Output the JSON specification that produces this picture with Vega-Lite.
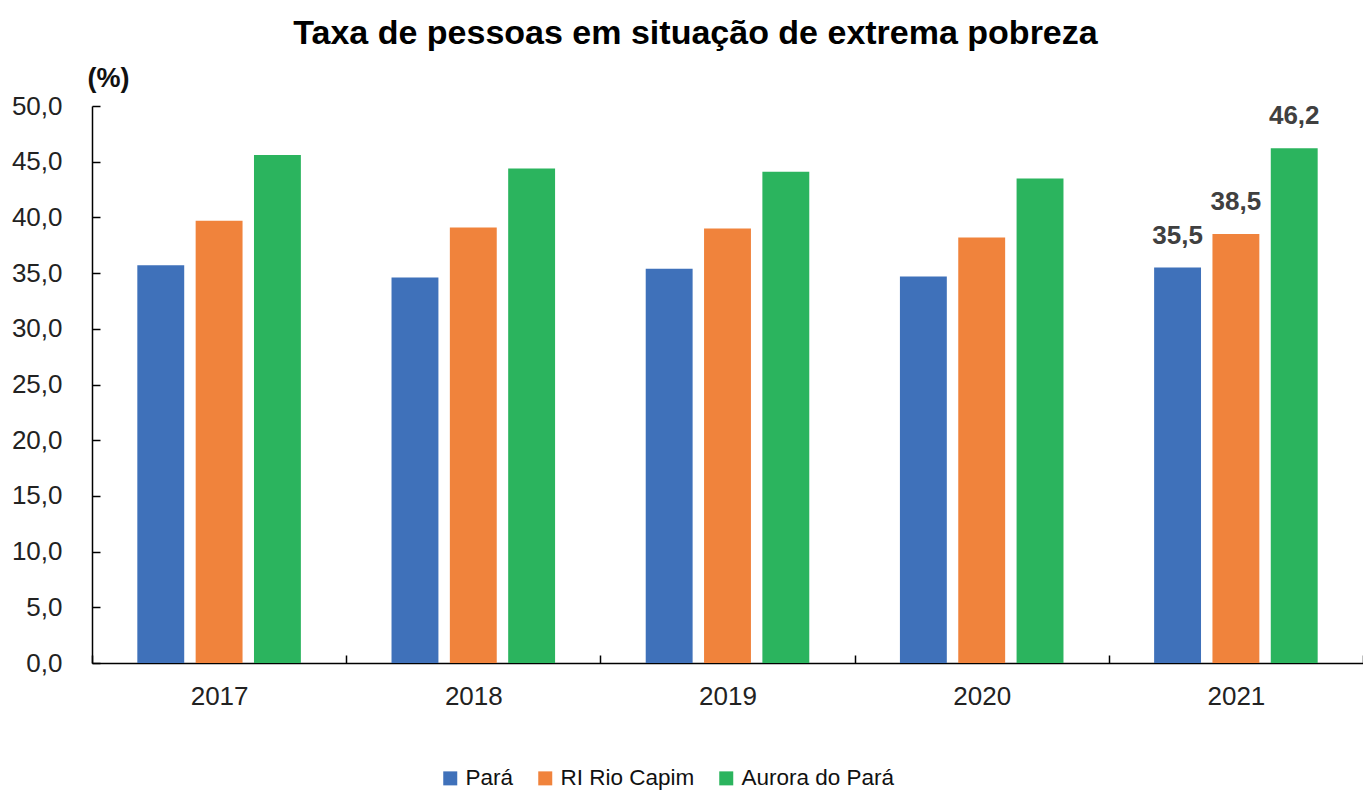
{
  "$schema": "https://vega.github.io/schema/vega-lite/v6.json",
  "autosize": "none",
  "width": 1271,
  "height": 557,
  "padding": {"left": 92, "top": 106, "right": 0, "bottom": 132},
  "background": "white",
  "config": {
    "locale": {"number": {"decimal": ",", "thousands": ".", "grouping": [3], "currency": ["R$", ""]}},
    "view": {"stroke": null},
    "font": "Liberation Sans"
  },
  "title": {
    "text": "Taxa de pessoas em situação de extrema pobreza",
    "font": "Liberation Sans",
    "fontSize": 34,
    "fontWeight": "bold",
    "color": "#000000",
    "anchor": "middle",
    "frame": "group",
    "dx": -32,
    "offset": 13
  },
  "data": {
    "values": [
      {"ano": "2017", "serie": "Pará", "valor": 35.7},
      {"ano": "2017", "serie": "RI Rio Capim", "valor": 39.7},
      {"ano": "2017", "serie": "Aurora do Pará", "valor": 45.6},
      {"ano": "2018", "serie": "Pará", "valor": 34.6},
      {"ano": "2018", "serie": "RI Rio Capim", "valor": 39.1},
      {"ano": "2018", "serie": "Aurora do Pará", "valor": 44.4},
      {"ano": "2019", "serie": "Pará", "valor": 35.4},
      {"ano": "2019", "serie": "RI Rio Capim", "valor": 39.0},
      {"ano": "2019", "serie": "Aurora do Pará", "valor": 44.1},
      {"ano": "2020", "serie": "Pará", "valor": 34.7},
      {"ano": "2020", "serie": "RI Rio Capim", "valor": 38.2},
      {"ano": "2020", "serie": "Aurora do Pará", "valor": 43.5},
      {"ano": "2021", "serie": "Pará", "valor": 35.5},
      {"ano": "2021", "serie": "RI Rio Capim", "valor": 38.5},
      {"ano": "2021", "serie": "Aurora do Pará", "valor": 46.2}
    ]
  },
  "encoding": {
    "x": {
      "field": "ano",
      "type": "nominal",
      "scale": {"paddingInner": 0, "paddingOuter": 0},
      "axis": {
        "title": null,
        "labelAngle": 0,
        "labelFont": "Liberation Sans",
        "labelFontSize": 26,
        "labelColor": "#222222",
        "labelPadding": 28,
        "tickBand": "extent",
        "tickSize": -8,
        "tickColor": "#000000",
        "tickWidth": 1.5,
        "domainColor": "#000000",
        "domainWidth": 1.5,
        "grid": false
      }
    },
    "xOffset": {
      "field": "serie",
      "type": "nominal",
      "sort": ["Pará", "RI Rio Capim", "Aurora do Pará"],
      "scale": {"paddingInner": 0.196, "paddingOuter": 0.777}
    },
    "y": {
      "field": "valor",
      "type": "quantitative",
      "scale": {"domain": [0, 50], "nice": false},
      "axis": {
        "title": "(%)",
        "titleAngle": 0,
        "titleAlign": "center",
        "titleBaseline": "middle",
        "titleX": 16,
        "titleY": -28,
        "titleFont": "Liberation Sans",
        "titleFontSize": 27,
        "titleFontWeight": "bold",
        "titleColor": "#111111",
        "values": [0, 5, 10, 15, 20, 25, 30, 35, 40, 45, 50],
        "format": ".1f",
        "labelFont": "Liberation Sans",
        "labelFontSize": 26,
        "labelColor": "#222222",
        "labelPadding": 38,
        "tickSize": -8,
        "tickColor": "#000000",
        "tickWidth": 1.5,
        "domainColor": "#000000",
        "domainWidth": 1.5,
        "grid": false
      }
    }
  },
  "layer": [
    {
      "mark": {"type": "bar"},
      "encoding": {
        "color": {
          "field": "serie",
          "type": "nominal",
          "sort": ["Pará", "RI Rio Capim", "Aurora do Pará"],
          "scale": {
            "domain": ["Pará", "RI Rio Capim", "Aurora do Pará"],
            "range": ["#3F71BA", "#F0833C", "#2BB45E"]
          },
          "legend": {
            "title": null,
            "orient": "none",
            "direction": "horizontal",
            "legendX": 347,
            "legendY": 661,
            "symbolType": "square",
            "symbolSize": 196,
            "symbolStrokeWidth": 0,
            "labelFont": "Liberation Sans",
            "labelFontSize": 22.5,
            "labelColor": "#111111",
            "labelLimit": 0,
            "labelOffset": 4,
            "columnPadding": 20
          }
        }
      }
    },
    {
      "transform": [{"filter": "datum.ano == '2021'"}],
      "mark": {
        "type": "text",
        "baseline": "alphabetic",
        "dy": -24,
        "font": "Liberation Sans",
        "fontSize": 26,
        "fontWeight": "bold",
        "color": "#404040"
      },
      "encoding": {
        "text": {"field": "valor", "type": "quantitative", "format": ".1f"}
      }
    }
  ]
}
